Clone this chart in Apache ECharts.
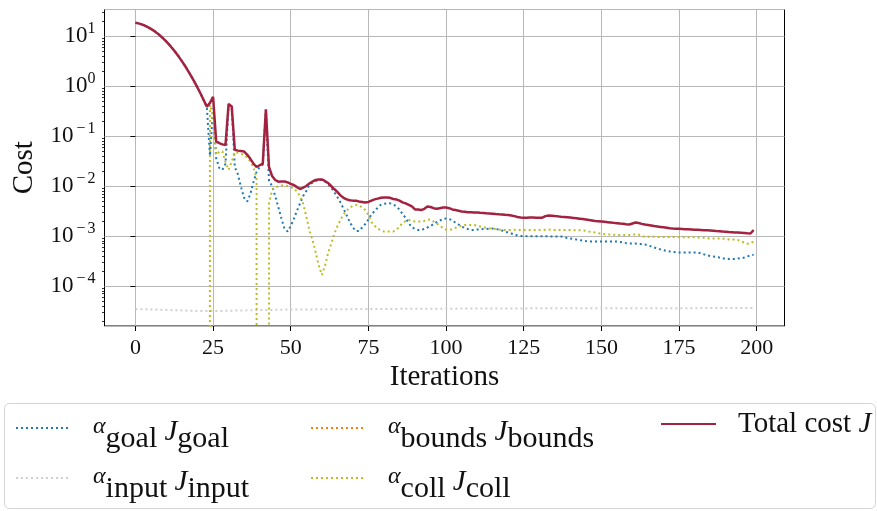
<!DOCTYPE html>
<html><head><meta charset="utf-8">
<script src="https://cdn.jsdelivr.net/npm/echarts@6/dist/echarts.min.js"></script>
<style>html,body{margin:0;padding:0;background:#fff}#c{width:877px;height:511px}</style>
</head><body><div id="c"></div>
<script>
const totalCost = [
18.4, 17.9, 17.1, 16.2, 15.1, 13.9, 12.7, 11.4, 10.1, 8.87,
7.69, 6.58, 5.56, 4.65, 3.83, 3.11, 2.51, 1.99, 1.56, 1.21,
0.925, 0.70, 0.52, 0.385, 0.46, 0.61, 0.078, 0.072, 0.068, 0.066,
0.44, 0.39, 0.053, 0.051, 0.050, 0.049, 0.042, 0.035, 0.028, 0.024,
0.026, 0.028, 0.34, 0.024, 0.0158, 0.0132, 0.0122, 0.0123, 0.0123, 0.0118,
0.0110, 0.0105, 0.0095, 0.0087, 0.0093, 0.0100, 0.0112, 0.0123, 0.0132, 0.0135,
0.0135, 0.0126, 0.0115, 0.0100, 0.0087, 0.0076, 0.0065, 0.0058, 0.0054, 0.0052,
0.0051, 0.0051, 0.0049, 0.0048, 0.0047, 0.0048, 0.0051, 0.0054, 0.0056, 0.0058,
0.0059, 0.0059, 0.0058, 0.0055, 0.0054, 0.0051, 0.0047, 0.0045, 0.0042, 0.0039,
0.0034, 0.0034, 0.0033, 0.0035, 0.0039, 0.0038, 0.0036, 0.0035, 0.0036, 0.0037,
0.0037, 0.0036, 0.0034, 0.0033, 0.0032, 0.0031, 0.00305, 0.0030, 0.00298, 0.00296,
0.00295, 0.00292, 0.0029, 0.00286, 0.00283, 0.0028, 0.00275, 0.00272, 0.0027, 0.00266,
0.00263, 0.00258, 0.0025, 0.0024, 0.00234, 0.00233, 0.00233, 0.00235, 0.00234, 0.00233,
0.00232, 0.00232, 0.0025, 0.00257, 0.00254, 0.0025, 0.00247, 0.00243, 0.0024, 0.00237,
0.00234, 0.0023, 0.00226, 0.00222, 0.00218, 0.00214, 0.0021, 0.00205, 0.002, 0.00198,
0.00195, 0.00192, 0.00189, 0.00186, 0.00183, 0.0018, 0.00177, 0.00175, 0.00172, 0.0017,
0.00178, 0.00186, 0.00182, 0.00175, 0.0017, 0.00166, 0.00162, 0.00158, 0.00155, 0.00152,
0.00149, 0.00146, 0.00143, 0.00141, 0.0014, 0.00139, 0.00138, 0.00137, 0.00136, 0.00135,
0.00134, 0.00133, 0.00132, 0.00131, 0.0013, 0.00129, 0.00128, 0.00126, 0.00125, 0.00123,
0.00122, 0.0012, 0.00119, 0.00118, 0.00117, 0.00116, 0.00115, 0.00113, 0.00112, 0.00132
];
const goalCost = [
18.4, 17.9, 17.1, 16.2, 15.1, 13.9, 12.7, 11.4, 10.1, 8.87,
7.69, 6.58, 5.56, 4.65, 3.83, 3.11, 2.51, 1.99, 1.56, 1.21,
0.925, 0.70, 0.52, 0.38, 0.04, 0.36, 0.036, 0.023, 0.021, 0.028,
0.41, 0.37, 0.024, 0.017, 0.0095, 0.0058, 0.0049, 0.0069, 0.0120, 0.019,
0.024, 0.027, 0.33, 0.0126, 0.010, 0.0063, 0.0038, 0.00224, 0.0014, 0.00123,
0.00158, 0.0022, 0.0032, 0.0045, 0.0063, 0.0079, 0.0105, 0.0117, 0.0126, 0.0132,
0.0132, 0.0123, 0.011, 0.0093, 0.0076, 0.006, 0.0047, 0.0035, 0.0026, 0.0019,
0.00148, 0.00126, 0.00126, 0.00148, 0.00174, 0.00214, 0.0027, 0.00316, 0.0037, 0.0042,
0.0044, 0.0045, 0.0045, 0.0043, 0.0039, 0.0034, 0.00275, 0.0023, 0.0018, 0.0015,
0.00138, 0.00132, 0.00132, 0.00138, 0.00148, 0.00158, 0.00174, 0.0019, 0.00204, 0.0022,
0.00224, 0.0022, 0.00204, 0.00186, 0.0017, 0.00155, 0.00145, 0.00138, 0.00132, 0.00132,
0.00135, 0.00135, 0.00138, 0.00138, 0.00141, 0.00141, 0.00138, 0.00135, 0.00129, 0.00123,
0.00117, 0.00112, 0.00107, 0.00102, 0.0010, 0.0010, 0.00099, 0.00099, 0.00099, 0.00099,
0.00099, 0.00099, 0.00099, 0.00099, 0.00098, 0.00098, 0.00098, 0.00098, 0.00095, 0.00091,
0.00089, 0.00087, 0.00085, 0.00083, 0.00081, 0.00079, 0.00078, 0.00078, 0.00078, 0.00078,
0.00078, 0.00078, 0.00078, 0.00078, 0.00078, 0.00078, 0.00076, 0.00074, 0.00072, 0.00071,
0.00071, 0.00071, 0.00069, 0.00069, 0.00068, 0.00065, 0.00062, 0.00059, 0.00056, 0.00054,
0.00052, 0.0005, 0.00049, 0.00048, 0.00047, 0.00047, 0.00047, 0.00047, 0.00047, 0.00047,
0.00047, 0.00047, 0.00045, 0.00043, 0.00041, 0.0004, 0.00039, 0.00038, 0.00037, 0.000355,
0.000355, 0.000347, 0.000347, 0.000347, 0.000355, 0.00036, 0.00037, 0.00039, 0.00041, 0.00042
];
const inputCost = [
3.45e-5, 3.44e-5, 3.43e-5, 3.42e-5, 3.41e-5, 3.40e-5, 3.38e-5, 3.37e-5, 3.35e-5, 3.34e-5,
3.32e-5, 3.31e-5, 3.29e-5, 3.28e-5, 3.26e-5, 3.25e-5, 3.23e-5, 3.22e-5, 3.20e-5, 3.19e-5,
3.18e-5, 3.17e-5, 3.16e-5, 3.15e-5, 3.15e-5, 3.15e-5, 3.16e-5, 3.17e-5, 3.18e-5, 3.19e-5,
3.20e-5, 3.21e-5, 3.22e-5, 3.23e-5, 3.24e-5, 3.25e-5, 3.26e-5, 3.27e-5, 3.28e-5, 3.29e-5,
3.30e-5, 3.31e-5, 3.31e-5, 3.32e-5, 3.33e-5, 3.34e-5, 3.35e-5, 3.36e-5, 3.37e-5, 3.38e-5,
3.38e-5, 3.38e-5, 3.39e-5, 3.39e-5, 3.39e-5, 3.40e-5, 3.40e-5, 3.40e-5, 3.41e-5, 3.41e-5,
3.41e-5, 3.42e-5, 3.42e-5, 3.42e-5, 3.43e-5, 3.43e-5, 3.43e-5, 3.44e-5, 3.44e-5, 3.44e-5,
3.45e-5, 3.45e-5, 3.45e-5, 3.46e-5, 3.46e-5, 3.46e-5, 3.46e-5, 3.47e-5, 3.47e-5, 3.47e-5,
3.47e-5, 3.48e-5, 3.48e-5, 3.48e-5, 3.48e-5, 3.49e-5, 3.49e-5, 3.49e-5, 3.49e-5, 3.50e-5,
3.50e-5, 3.50e-5, 3.50e-5, 3.50e-5, 3.51e-5, 3.51e-5, 3.51e-5, 3.51e-5, 3.51e-5, 3.52e-5,
3.52e-5, 3.52e-5, 3.52e-5, 3.52e-5, 3.53e-5, 3.53e-5, 3.53e-5, 3.53e-5, 3.53e-5, 3.53e-5,
3.54e-5, 3.54e-5, 3.54e-5, 3.54e-5, 3.54e-5, 3.55e-5, 3.55e-5, 3.55e-5, 3.55e-5, 3.55e-5,
3.55e-5, 3.56e-5, 3.56e-5, 3.56e-5, 3.56e-5, 3.56e-5, 3.56e-5, 3.57e-5, 3.57e-5, 3.57e-5,
3.57e-5, 3.57e-5, 3.57e-5, 3.57e-5, 3.58e-5, 3.58e-5, 3.58e-5, 3.58e-5, 3.58e-5, 3.58e-5,
3.58e-5, 3.59e-5, 3.59e-5, 3.59e-5, 3.59e-5, 3.59e-5, 3.59e-5, 3.59e-5, 3.59e-5, 3.60e-5,
3.60e-5, 3.60e-5, 3.60e-5, 3.60e-5, 3.60e-5, 3.60e-5, 3.60e-5, 3.60e-5, 3.60e-5, 3.60e-5,
3.60e-5, 3.60e-5, 3.60e-5, 3.61e-5, 3.61e-5, 3.61e-5, 3.61e-5, 3.61e-5, 3.61e-5, 3.61e-5,
3.61e-5, 3.61e-5, 3.61e-5, 3.61e-5, 3.61e-5, 3.61e-5, 3.61e-5, 3.61e-5, 3.61e-5, 3.61e-5,
3.61e-5, 3.61e-5, 3.62e-5, 3.62e-5, 3.62e-5, 3.62e-5, 3.62e-5, 3.62e-5, 3.62e-5, 3.62e-5,
3.62e-5, 3.62e-5, 3.62e-5, 3.62e-5, 3.62e-5, 3.62e-5, 3.62e-5, 3.62e-5, 3.62e-5, 3.62e-5
];
const boundsCost = [
0,0,0,0,0,0,0,0,0,0, 0,0,0,0,0,0,0,0,0,0,
0,0,0,0,0,0,0,0,0,0, 0,0,0,0,0,0,0,0,0,0,
0,0,0,0,0,0,0,0,0,0, 0,0,0,0,0,0,0,0,0,0,
0,0,0,0,0,0,0,0,0,0, 0,0,0,0,0,0,0,0,0,0,
0,0,0,0,0,0,0,0,0,0, 0,0,0,0,0,0,0,0,0,0,
0,0,0,0,0,0,0,0,0,0, 0,0,0,0,0,0,0,0,0,0,
0,0,0,0,0,0,0,0,0,0, 0,0,0,0,0,0,0,0,0,0,
0,0,0,0,0,0,0,0,0,0, 0,0,0,0,0,0,0,0,0,0,
0,0,0,0,0,0,0,0,0,0, 0,0,0,0,0,0,0,0,0,0,
0,0,0,0,0,0,0,0,0,0, 0,0,0,0,0,0,0,0,0,0
];
const collCost = [
0, 0, 0, 0, 0, 0, 0, 0, 0, 0,
0, 0, 0, 0, 0, 0, 0, 0, 0, 0,
0, 0, 0, 0, 0.42, 0.25, 0.042, 0.049, 0.049, 0.030,
0.021, 0.031, 0.047, 0.046, 0.044, 0.042, 0.037, 0.031, 0.024, 0.014,
0, 0, 0, 0.0045, 0.0083, 0.0095, 0.0098, 0.0102, 0.0102, 0.0100,
0.0095, 0.0089, 0.0078, 0.0063, 0.0044, 0.0025, 0.0013, 0.00083, 0.00048, 0.00026,
0.000166, 0.00025, 0.00045, 0.00069, 0.0011, 0.00155, 0.0021, 0.0027, 0.0032, 0.0037,
0.0040, 0.0042, 0.0041, 0.0037, 0.0033, 0.0026, 0.0019, 0.0016, 0.00141, 0.00129,
0.00123, 0.00123, 0.00123, 0.00123, 0.00132, 0.00155, 0.0018, 0.0020, 0.0021, 0.0020,
0.00195, 0.00195, 0.00195, 0.0020, 0.00214, 0.0021, 0.00195, 0.0018, 0.0016, 0.00145,
0.00135, 0.00135, 0.00135, 0.00145, 0.00155, 0.0016, 0.00166, 0.00166, 0.00166, 0.00166,
0.0016, 0.00155, 0.0015, 0.00145, 0.00141, 0.0014, 0.00138, 0.00135, 0.00133, 0.00132,
0.00132, 0.00132, 0.00133, 0.00131, 0.00132, 0.00132, 0.00133, 0.00132, 0.0013, 0.00132,
0.00132, 0.0013, 0.00133, 0.00135, 0.00133, 0.00132, 0.00132, 0.00131, 0.00132, 0.00132,
0.00132, 0.00131, 0.0013, 0.0013, 0.00129, 0.00127, 0.00123, 0.0012, 0.00117, 0.00114,
0.00112, 0.00109, 0.00108, 0.00107, 0.00106, 0.00105, 0.00105, 0.00105, 0.00105, 0.00105,
0.00107, 0.00107, 0.00107, 0.00098, 0.00098, 0.00097, 0.00097, 0.00097, 0.00096, 0.00096,
0.00096, 0.00095, 0.00095, 0.00095, 0.00095, 0.00095, 0.00094, 0.00094, 0.00094, 0.00094,
0.00094, 0.00093, 0.00093, 0.00092, 0.00091, 0.00089, 0.00089, 0.00089, 0.00089, 0.00089,
0.00087, 0.00085, 0.00085, 0.00085, 0.00083, 0.00078, 0.00074, 0.0007, 0.00072, 0.00078
];
const xTickMin = 0, xTickMax = 200, xTickStep = 25;
const yMin = 1.585e-5, yMax = 33.9;
const xMin = -9.95, xMax = 208.95;
const minorMultipliers = [2, 3, 4, 5, 6, 7, 8, 9];
const decades = [1e-5, 1e-4, 1e-3, 1e-2, 1e-1, 1, 10];

const FONT = "'Liberation Serif', 'Times New Roman', serif";
const iterations = totalCost.map((_, i) => i);
const pair = arr => arr.map((v, i) => [iterations[i], v > 0 ? v : 1e-300]);
const minorTicks = [];
decades.forEach(d => minorMultipliers.forEach(m => { const v = d * m; if (v > yMin && v < yMax) minorTicks.push(v); }));

const legendText = {
  goal: '{g| }{a|α}{s|goal} {j|J}{s|goal}',
  input: '{g| }{a|α}{s|input} {j|J}{s|input}',
  bounds: '{g| }{a|α}{s|bounds} {j|J}{s|bounds}',
  coll: '{g| }{a|α}{s|coll} {j|J}{s|coll}',
  total: '{g| }Total cost {ji|J}'
};
const LH = 54;
const legendTextStyle = {
  fontFamily: FONT, fontSize: 29, color: '#111', lineHeight: LH,
  rich: {
    g: { width: 17 },
    a: { fontFamily: FONT, fontSize: 24, fontStyle: 'italic', padding: [2, 0, 4, 0], color: '#111' },
    s: { fontFamily: FONT, fontSize: 30, padding: [22, 0, 0, 0], color: '#111' },
    j: { fontFamily: FONT, fontSize: 29, fontStyle: 'italic', padding: [8, 0, 0, 0], color: '#111' },
    ji: { fontFamily: FONT, fontSize: 29, fontStyle: 'italic', color: '#111' }
  }
};
const mkLegend = (data, left, top) => ({
  data, left, top, orient: 'vertical', itemWidth: 55, itemHeight: 14, itemGap: 50 - LH, padding: 0,
  formatter: n => legendText[n], textStyle: legendTextStyle, selectedMode: false,
  itemStyle: { opacity: 0, borderWidth: 0 }
});
const dotted = (name, data, color) => ({
  name, type: 'line', data: pair(data), xAxisIndex: 0, yAxisIndex: 0,
  symbol: 'none', showSymbol: false, clip: true, animation: false,
  lineStyle: { color, width: 2, type: [2, 3] }, itemStyle: { color }
});
const expLabel = e => e < 0 ? '{m|\u2212}{e|' + (-e) + '}' : '{e|' + e + '}';

const chart = echarts.init(document.getElementById('c'), null, { renderer: 'canvas' });
chart.setOption({
  animation: false,
  backgroundColor: '#fff',
  graphic: [{
    type: 'rect', left: 4, top: 403, z: 0,
    shape: { width: 871, height: 105, r: 5 },
    style: { fill: '#fff', stroke: '#d4d4d4', lineWidth: 1 }
  }],
  grid: [
    { left: 104.5, top: 9.5, width: 680, height: 316.5, show: true, borderColor: '#000', borderWidth: 1, backgroundColor: 'transparent' },
    { left: 135.4, top: 9.5, width: 621.3, height: 316.5, show: false }
  ],
  xAxis: [
    { gridIndex: 0, type: 'value', min: xMin, max: xMax,
      axisLine: { show: false }, axisTick: { show: false }, axisLabel: { show: false }, splitLine: { show: false },
      name: 'Iterations', nameLocation: 'middle', nameGap: 37,
      nameTextStyle: { fontFamily: FONT, fontSize: 29, color: '#111' } },
    { gridIndex: 1, type: 'value', min: xTickMin, max: xTickMax, interval: xTickStep,
      axisLine: { show: false },
      axisTick: { show: true, length: 5, lineStyle: { color: '#000', width: 1 } },
      axisLabel: { fontFamily: FONT, fontSize: 22, color: '#111', margin: 11 },
      splitLine: { show: true, lineStyle: { color: '#b8b8b8', width: 1 } } }
  ],
  yAxis: [
    { gridIndex: 0, type: 'log', logBase: 10, min: yMin, max: yMax,
      axisLine: { show: false },
      axisTick: { show: true, length: 5, lineStyle: { color: '#000', width: 1 } },
      axisLabel: {
        margin: 9, showMinLabel: false, showMaxLabel: false, color: '#111',
        formatter: v => '{b|10}' + expLabel(Math.round(Math.log10(v))),
        rich: {
          b: { fontFamily: FONT, fontSize: 23, lineHeight: 30, color: '#111' },
          e: { fontFamily: FONT, fontSize: 16, lineHeight: 14, verticalAlign: 'top', color: '#111' },
          m: { fontFamily: FONT, fontSize: 16, lineHeight: 14, verticalAlign: 'top', padding: [0, 2, 0, 3], color: '#111' }
        }
      },
      splitLine: { show: true, lineStyle: { color: '#b8b8b8', width: 1 } },
      name: 'Cost', nameLocation: 'middle', nameGap: 66, nameRotate: 90,
      nameTextStyle: { fontFamily: FONT, fontSize: 29, color: '#111' } },
    { gridIndex: 0, type: 'log', logBase: 10, min: yMin, max: yMax, position: 'left',
      axisLine: { show: false }, axisLabel: { show: false }, splitLine: { show: false },
      axisTick: { show: true, length: 2.5, customValues: minorTicks, lineStyle: { color: '#000', width: 0.8 } } },
    { gridIndex: 1, type: 'log', logBase: 10, min: yMin, max: yMax, show: false }
  ],
  legend: [
    mkLegend(['goal', 'input'], 15, 428 - LH / 2),
    mkLegend(['bounds', 'coll'], 310, 428 - LH / 2),
    mkLegend(['total'], 660, 424 - LH / 2)
  ],
  series: [
    dotted('goal', goalCost, '#1f77b4'),
    dotted('input', inputCost, '#cfcfcf'),
    dotted('bounds', boundsCost, '#ff7f0e'),
    dotted('coll', collCost, '#bcbd22'),
    { name: 'total', type: 'line', data: pair(totalCost), xAxisIndex: 0, yAxisIndex: 0,
      symbol: 'none', showSymbol: false, clip: true, animation: false,
      lineStyle: { color: '#a3223f', width: 2.5 }, itemStyle: { color: '#a3223f' } }
  ]
});
</script>
</body></html>
